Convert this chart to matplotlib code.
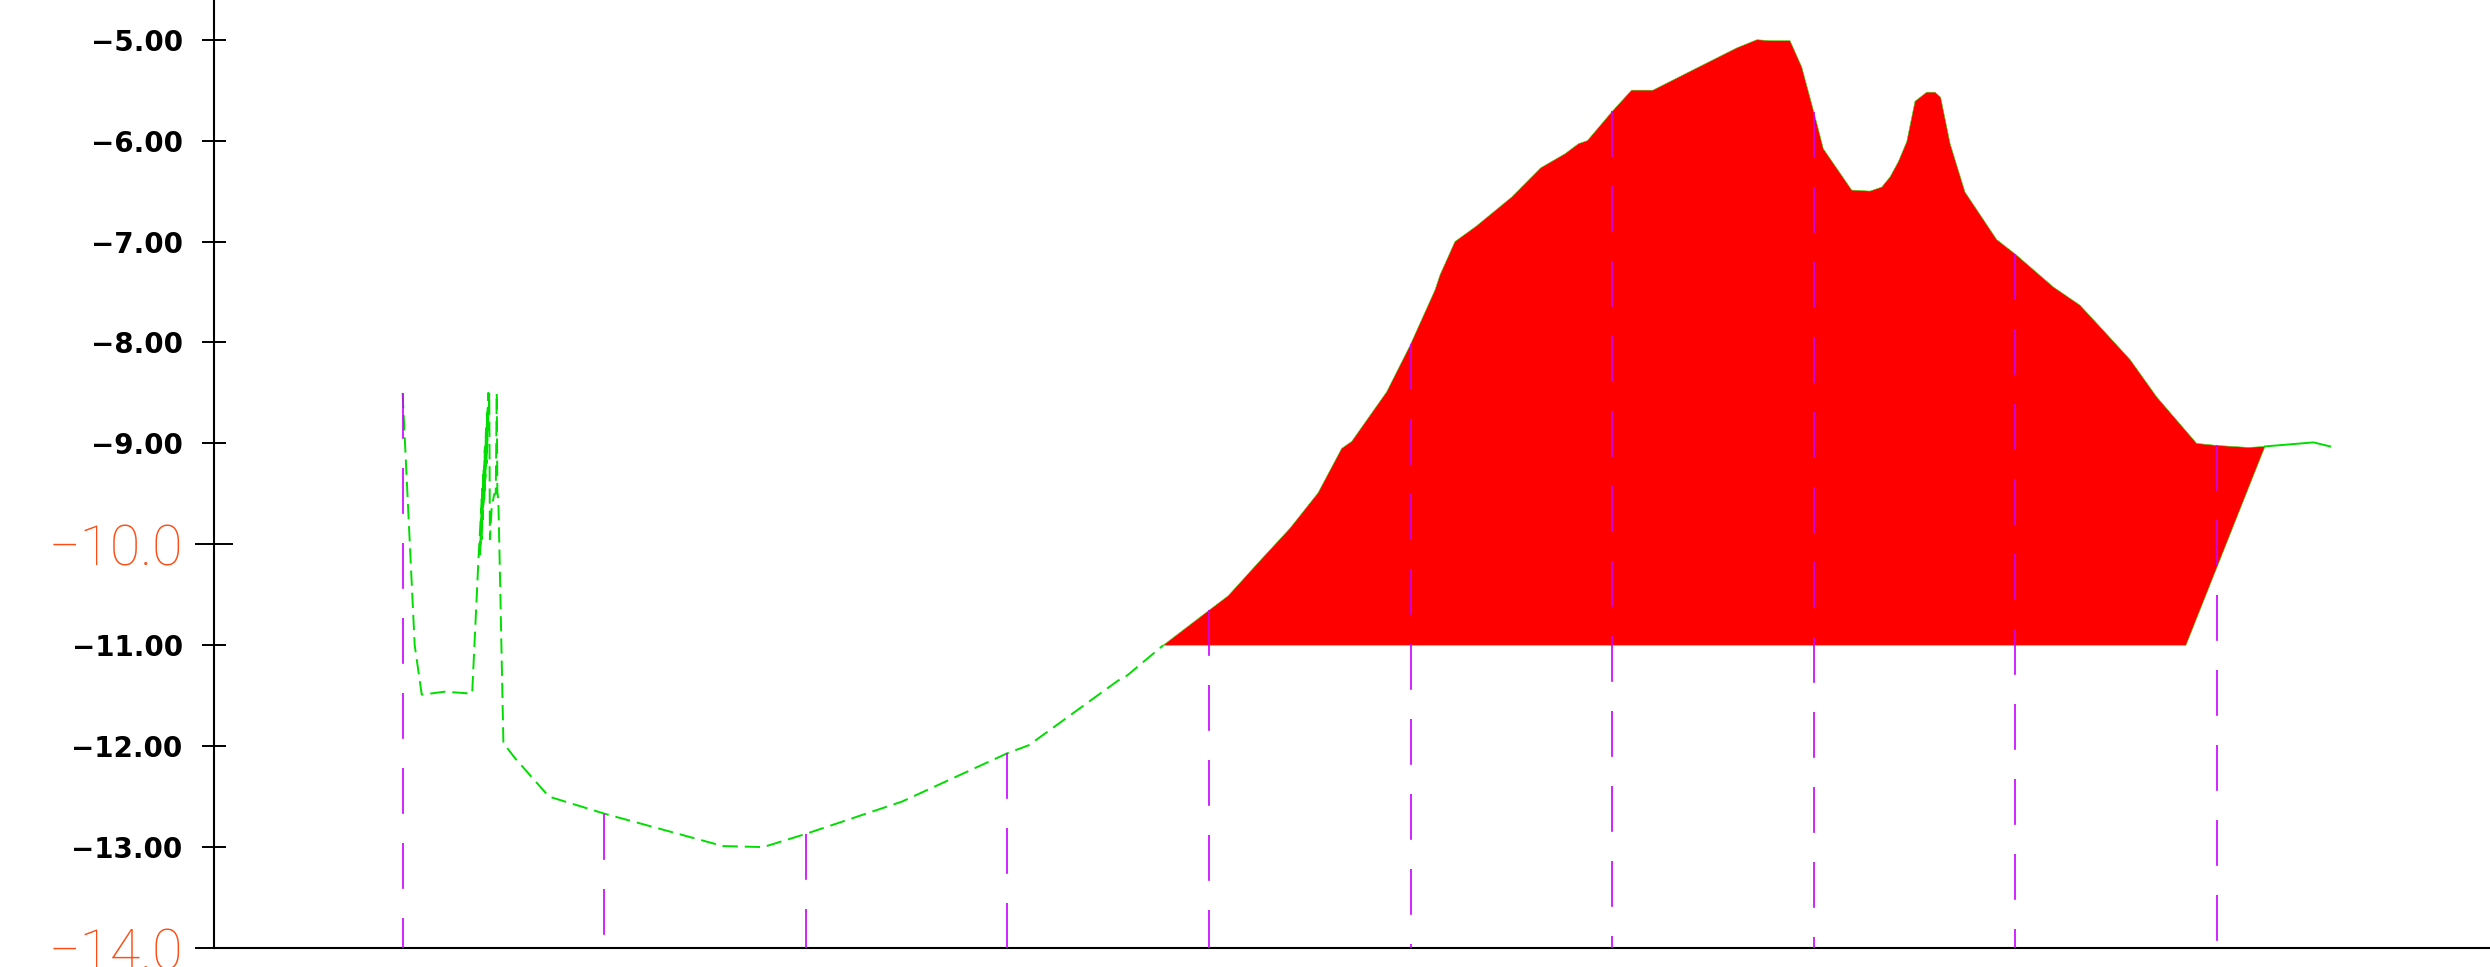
import numpy as np
import matplotlib
matplotlib.use("Agg")
import matplotlib.pyplot as plt

plt.rcParams['lines.scale_dashes'] = False

# ground profile (station, elevation)
ground_x = [0.0, 0.6, 0.95, 2.1, 3.45, 3.76, 3.95, 3.84, 4.02, 3.92, 4.08, 3.98, 4.14,
            4.05, 4.20, 4.10, 4.25, 4.16, 4.30, 4.33, 4.42, 4.55, 4.62, 4.67, 4.70,
            4.75, 4.85, 5.0, 5.58, 7.26,
            10.03, 15.89, 17.89, 19.99, 24.76, 30.0, 31.07, 35.49, 35.94, 37.73,
            39.96, 40.95, 42.54, 44.02, 45.41, 46.58, 47.08, 48.81, 49.97, 51.21,
            51.46, 52.20, 53.24, 55.01, 56.45, 57.66, 58.33, 58.77, 60.0, 60.96,
            62.02, 64.10, 66.19, 67.18, 67.83, 68.82, 69.40, 70.06, 70.47, 71.88,
            72.79, 73.37, 73.78, 74.19, 74.61, 75.02, 75.60, 76.01, 76.29, 76.76,
            77.50, 79.07, 80.03, 81.88, 83.20, 84.36, 85.69, 87.01, 88.99, 89.98,
            91.55, 92.38, 94.78, 95.61]
ground_y = [-8.50, -11.0, -11.49, -11.46, -11.48, -10.16, -9.45, -10.10, -9.25, -9.95,
            -9.05, -9.75, -8.85, -9.55, -8.70, -9.35, -8.50, -9.20, -8.50, -9.95,
            -9.63, -9.50, -9.50, -8.5, -9.48, -9.56, -10.5, -11.97,
            -12.12, -12.50, -12.67, -12.99, -13.0, -12.87, -12.55, -12.07, -11.99, -11.35,
            -11.30, -11.0, -10.66, -10.51, -10.16, -9.84, -9.49, -9.05, -8.98, -8.49,
            -8.03, -7.48, -7.33, -7.00, -6.85, -6.56, -6.27, -6.13, -6.03, -6.00, -5.71,
            -5.50, -5.50, -5.29, -5.08, -5.00, -5.01, -5.01, -5.27, -5.76, -6.08, -6.49,
            -6.50, -6.46, -6.36, -6.21, -6.01, -5.61, -5.52, -5.52, -5.57, -6.03, -6.51,
            -6.98, -7.13, -7.45, -7.63, -7.88, -8.17, -8.54, -9.00, -9.02, -9.04, -9.03,
            -8.99, -9.03]

# design line: cut level, toe and top of slope
design_x = [37.73, 88.46, 92.38]
design_y = [-11.0, -11.0, -9.03]

stations = [0, 10, 20, 30, 40, 50, 60, 70, 80, 90]

gx = np.array(ground_x)
gy = np.array(ground_y)

fig = plt.figure(figsize=(24.9, 9.67), dpi=100)
ax = fig.add_axes([214 / 2490, 19 / 967, 1 - 214 / 2490, 1 - 19 / 967])

# cut area
cut = (gx >= design_x[0]) & (gx <= design_x[-1])
px = np.concatenate([gx[cut], design_x[::-1]])
py = np.concatenate([gy[cut], design_y[::-1]])
ax.fill(px, py, facecolor='#ff0000', edgecolor='#33dd00', linewidth=0.4, zorder=2)

# ground line
left = gx <= design_x[0]
right = gx >= design_x[-1]
ax.plot(gx[left], gy[left], color='#00dd00', lw=1.4, dashes=(11, 5), zorder=3)
ax.plot(gx[right], gy[right], color='#00dd00', lw=1.4, zorder=3)

# station lines
for s in stations:
    top = np.interp(s, gx[gx >= 4.9], gy[gx >= 4.9]) if s > 0 else gy[0]
    ax.plot([s, s], [top, -14], color='#c800ff', lw=1.2, dashes=(33, 21), zorder=4)

ax.set_xlim(-9.355, 103.54)
ax.set_ylim(-14, -4.6065)
ax.set_xticks([])
for sp in ['top', 'right']:
    ax.spines[sp].set_visible(False)
ax.spines['left'].set_linewidth(1.5)
ax.spines['bottom'].set_linewidth(1.5)

major = [-14, -10]
minor = [-13, -12, -11, -9, -8, -7, -6, -5]
ax.set_yticks(major, ['\u2212%.1f' % abs(v) for v in major])
ax.set_yticks(minor, ['\u2212%.2f' % abs(v) for v in minor], minor=True)
ax.tick_params(axis='y', which='major', direction='inout', length=28, width=1.4,
               pad=8, labelcolor='#ff4c14', labelsize=40)
ax.tick_params(axis='y', which='minor', direction='inout', length=17, width=1.4,
               pad=14, labelsize=20)
for t in ax.get_yticklabels():
    t.set_family('Roboto')
    t.set_weight('light')
for t in ax.get_yticklabels(minor=True):
    t.set_weight('bold')

fig.savefig('out.png', dpi=100)
